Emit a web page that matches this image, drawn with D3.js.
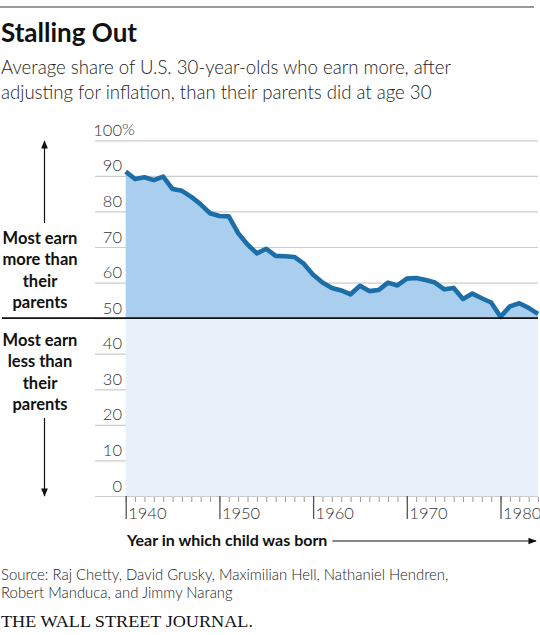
<!DOCTYPE html>
<html>
<head>
<meta charset="utf-8">
<script src="https://cdn.jsdelivr.net/npm/d3@7"></script>
<style>
  body { margin: 0; background: #fff; }
  text { font-family: Lato, "Open Sans", sans-serif; }
</style>
</head>
<body>
<div id="app"></div>
<script>
// DATA ------------------------------------------------------
var years = d3.range(1940, 1985);
var shares = [91.2, 89.1, 89.6, 88.8, 89.8, 86.3, 85.8, 84.1, 82.0, 79.5,
              78.7, 78.6, 73.9, 70.7, 68.2, 69.5, 67.5, 67.4, 67.2, 65.3,
              62.2, 60.0, 58.5, 57.8, 56.7, 59.1, 57.6, 57.9, 60.0, 59.2,
              61.1, 61.3, 60.7, 60.0, 58.1, 58.5, 55.4, 56.9, 55.6, 54.4,
              50.4, 53.3, 54.2, 52.9, 51.2];
var yTicks = [0, 10, 20, 30, 40, 50, 60, 70, 80, 90, 100];
var xMajor = [1940, 1950, 1960, 1970, 1980];
var upperLabel = ["Most earn", "more than", "their", "parents"];
var lowerLabel = ["Most earn", "less than", "their", "parents"];
var sourceLines = ["Source:  Raj Chetty, David Grusky, Maximilian Hell, Nathaniel Hendren,",
                   "Robert Manduca, and Jimmy Narang"];

var W = 540, H = 635;

// scales
var x = d3.scaleLinear().domain([1940, 1984]).range([125.7, 538]);
var y = d3.scaleLinear().domain([0, 100]).range([496, 140.3]);

var svg = d3.select("#app")
  .append("svg")
    .attr("width", W)
    .attr("height", H);

// top rule
svg.append("line")
  .attr("x1", 0).attr("x2", 534)
  .attr("y1", 7).attr("y2", 7)
  .attr("stroke", "#777").attr("stroke-width", 1.5);

// title + subtitle
svg.append("text")
  .attr("x", 1).attr("y", 42)
  .attr("font-size", 26).attr("font-weight", 700)
  .attr("fill", "#111")
  .text("Stalling Out");

svg.selectAll(".sub")
  .data(["Average share of U.S. 30-year-olds who earn more, after",
         "adjusting for inflation, than their parents did at age 30"])
  .enter().append("text")
    .attr("class", "sub")
    .attr("x", 1)
    .attr("y", function(d, i) { return 74 + i * 25; })
    .attr("font-size", 18.6).attr("font-weight", 300)
    .attr("fill", "#222")
    .text(function(d) { return d; });

// gridlines (y axis) - drawn first so the fills cover them
var yAxis = svg.append("g")
  .attr("transform", "translate(95,0)")
  .call(d3.axisRight(y).tickValues(yTicks).tickSize(W - 2 - 95).tickFormat(d3.format("d")));
yAxis.select(".domain").remove();
yAxis.selectAll(".tick line").attr("stroke", "#ccc").attr("stroke-width", 1.2);
yAxis.selectAll(".tick text")
  .attr("x", 122 - 95)
  .attr("dy", -5)
  .attr("text-anchor", "end")
  .attr("font-size", 16.5).attr("font-weight", 300)
  .attr("fill", "#333");
// percent sign on the top label
svg.append("text")
  .attr("x", 122).attr("y", y(100) - 5)
  .attr("font-size", 16.5).attr("font-weight", 300)
  .attr("fill", "#333")
  .text("%");

// lower region (below 50)
svg.append("rect")
  .attr("x", x(1940)).attr("width", x(1984) - x(1940))
  .attr("y", y(50)).attr("height", y(0) - y(50))
  .attr("fill", "#e8f0fa");

// area above 50
var area = d3.area()
  .x(function(d, i) { return x(years[i]); })
  .y0(y(50))
  .y1(function(d) { return y(d); });

svg.append("path")
  .datum(shares)
  .attr("d", area)
  .attr("fill", "#aacfee");

// the line
var line = d3.line()
  .x(function(d, i) { return x(years[i]); })
  .y(function(d) { return y(d); });

svg.append("path")
  .datum(shares)
  .attr("d", line)
  .attr("fill", "none")
  .attr("stroke", "#1b6ea7")
  .attr("stroke-width", 4.6)
  .attr("stroke-linejoin", "round");

// 50% baseline
svg.append("line")
  .attr("x1", 2).attr("x2", 538)
  .attr("y1", y(50)).attr("y2", y(50))
  .attr("stroke", "#111").attr("stroke-width", 1.6);

// x axis: minor ticks
var xMinor = svg.append("g")
  .attr("transform", "translate(0," + (y(0) + 1) + ")")
  .call(d3.axisBottom(x).tickValues(years).tickSize(5).tickFormat(""));
xMinor.select(".domain").remove();
xMinor.selectAll(".tick line").attr("stroke", "#999").attr("stroke-width", 1);

// x axis: major ticks + labels
var xAxis = svg.append("g")
  .attr("transform", "translate(0," + y(0) + ")")
  .call(d3.axisBottom(x).tickValues(xMajor).tickSize(23).tickFormat(d3.format("d")));
xAxis.select(".domain").remove();
xAxis.selectAll(".tick line").attr("stroke", "#555").attr("stroke-width", 1.3);
xAxis.selectAll(".tick text")
  .attr("x", 2).attr("y", 23).attr("dy", 0)
  .attr("text-anchor", "start")
  .attr("font-size", 16.5).attr("font-weight", 300)
  .attr("fill", "#333");

// x title + arrow
var xTitle = svg.append("text")
  .attr("x", 127).attr("y", 546)
  .attr("font-size", 16).attr("font-weight", 700)
  .attr("fill", "#111")
  .text("Year in which child was born");

var defs = svg.append("defs");
defs.append("marker")
    .attr("id", "head")
    .attr("viewBox", "0 0 10 10")
    .attr("refX", 9).attr("refY", 5)
    .attr("markerWidth", 7).attr("markerHeight", 7)
    .attr("orient", "auto")
  .append("path")
    .attr("d", "M0,1 L10,5 L0,9 Z")
    .attr("fill", "#111");

var tEnd = 127 + xTitle.node().getComputedTextLength();
svg.append("line")
  .attr("x1", tEnd + 5).attr("x2", 536)
  .attr("y1", 541).attr("y2", 541)
  .attr("stroke", "#111").attr("stroke-width", 1.2)
  .attr("marker-end", "url(#head)");

// left annotations
svg.selectAll(".up")
  .data(upperLabel)
  .enter().append("text")
    .attr("class", "up")
    .attr("x", 40)
    .attr("y", function(d, i) { return 244 + i * 21.3; })
    .attr("text-anchor", "middle")
    .attr("font-size", 16.5).attr("font-weight", 700)
    .attr("fill", "#111")
    .text(function(d) { return d; });

svg.selectAll(".down")
  .data(lowerLabel)
  .enter().append("text")
    .attr("class", "down")
    .attr("x", 40)
    .attr("y", function(d, i) { return 346 + i * 21.3; })
    .attr("text-anchor", "middle")
    .attr("font-size", 16.5).attr("font-weight", 700)
    .attr("fill", "#111")
    .text(function(d) { return d; });

svg.append("line")
  .attr("x1", 44.5).attr("x2", 44.5)
  .attr("y1", 223).attr("y2", 141)
  .attr("stroke", "#111").attr("stroke-width", 1.2)
  .attr("marker-end", "url(#head)");

svg.append("line")
  .attr("x1", 44.5).attr("x2", 44.5)
  .attr("y1", 418).attr("y2", 496)
  .attr("stroke", "#111").attr("stroke-width", 1.2)
  .attr("marker-end", "url(#head)");

// source
svg.selectAll(".src")
  .data(sourceLines)
  .enter().append("text")
    .attr("class", "src")
    .attr("x", 1)
    .attr("y", function(d, i) { return 580 + i * 18; })
    .attr("font-size", 14.9).attr("font-weight", 300)
    .attr("fill", "#222")
    .text(function(d) { return d; });

// logo
svg.append("text")
  .attr("x", 1).attr("y", 627)
  .attr("font-size", 17)
  .attr("textLength", 252)
  .attr("lengthAdjust", "spacingAndGlyphs")
  .attr("fill", "#111")
  .style("font-family", "'Liberation Serif', serif")
  .text("THE WALL STREET JOURNAL.");
</script>
</body>
</html>
